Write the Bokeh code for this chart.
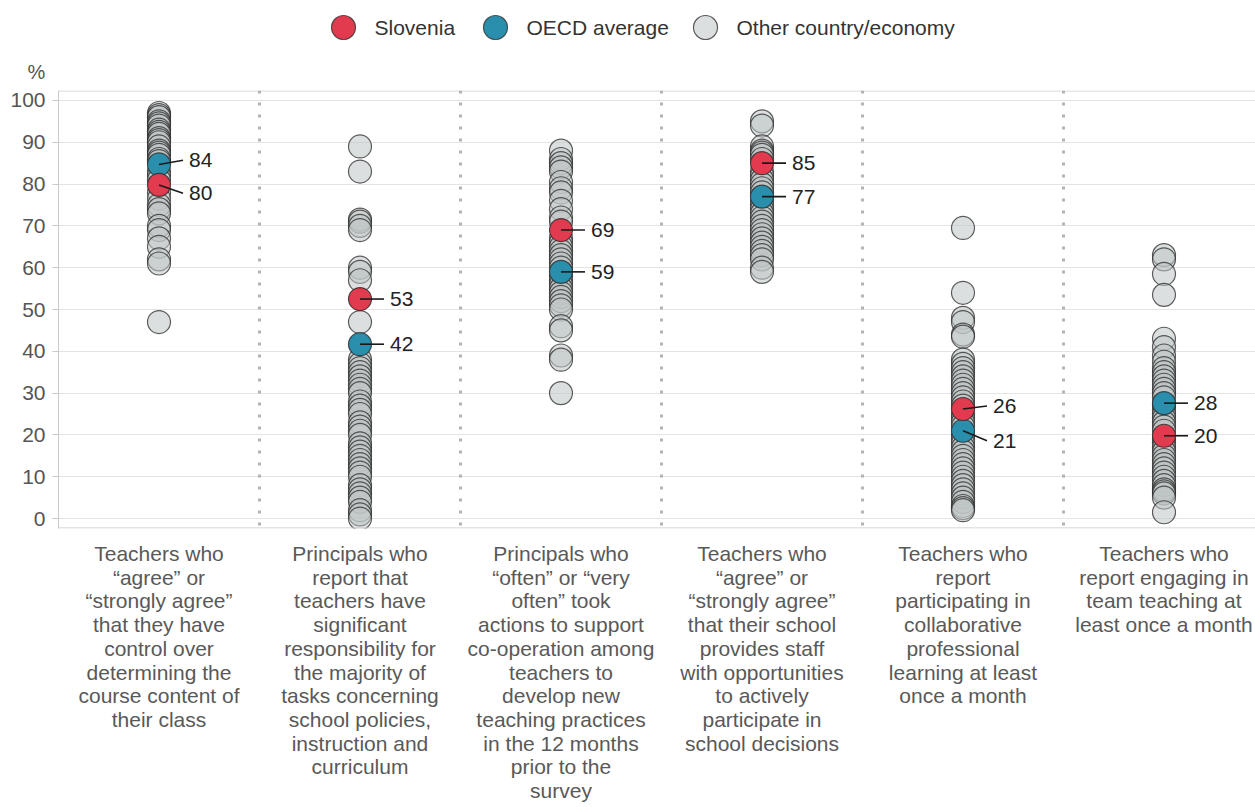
from bokeh.plotting import figure
from bokeh.models import Range1d, FixedTicker, Span, Title
from bokeh.layouts import column
from bokeh.core.properties import value
from bokeh.embed import file_html
from bokeh.resources import INLINE

# ---------------- data ----------------
categories = [
    "Teachers who\n“agree” or\n“strongly agree”\nthat they have\ncontrol over\ndetermining the\ncourse content of\ntheir class",
    "Principals who\nreport that\nteachers have\nsignificant\nresponsibility for\nthe majority of\ntasks concerning\nschool policies,\ninstruction and\ncurriculum",
    "Principals who\n“often” or “very\noften” took\nactions to support\nco-operation among\nteachers to\ndevelop new\nteaching practices\nin the 12 months\nprior to the\nsurvey",
    "Teachers who\n“agree” or\n“strongly agree”\nthat their school\nprovides staff\nwith opportunities\nto actively\nparticipate in\nschool decisions",
    "Teachers who\nreport\nparticipating in\ncollaborative\nprofessional\nlearning at least\nonce a month",
    "Teachers who\nreport engaging in\nteam teaching at\nleast once a month",
]

other_1 = [97, 96.5, 96, 95, 94.5, 94, 93, 92.5, 92, 91, 90.5, 90, 89, 88, 87.5, 87, 86, 85.5,
           83, 82, 81, 78, 76.5, 75, 74, 73, 70, 69, 67, 65, 62, 61, 47]
other_2 = [89, 83, 71.5, 71, 70, 69, 60, 59, 57, 47, 38, 37, 36, 35, 34, 33, 32, 31, 30, 28, 27,
           26, 25, 23, 22, 21, 20, 18, 17, 16, 15, 14, 13, 12, 11, 10, 8, 7, 6, 5, 4, 2, 1, 0]
other_3 = [88, 86, 85, 84, 83, 80.5, 79, 78, 76, 74, 72, 71, 67, 66, 65, 64, 63, 62, 61, 60, 58,
           57, 56, 55, 54, 53, 52, 51, 50, 46, 45, 39, 38, 30]
other_4 = [95, 94, 89, 88, 87.5, 87, 86, 83, 82, 81, 80, 79, 78, 76, 75, 74, 73, 72, 71, 70, 69,
           68, 67, 66, 65, 64, 63, 62, 60, 59]
other_5 = [69.5, 54, 48, 47, 44, 43.5, 38, 37, 36, 35, 34, 33, 32, 31, 30, 29, 28, 27, 25, 24, 23,
           22, 20, 19, 18, 17, 16, 15, 14, 13, 12, 11, 10, 9, 8, 7, 6, 5, 4, 3, 2.5, 2]
other_6 = [63, 62, 58.5, 53.5, 43, 41, 39, 37.5, 36, 35, 34, 33, 32, 31, 30, 29, 27, 26, 25, 24,
           23, 22, 21, 19, 18, 17, 16, 15, 14, 13, 12, 11, 10, 9, 8, 7, 6.5, 6, 5, 1.5]
others = [other_1, other_2, other_3, other_4, other_5, other_6]

slovenia = [79.8, 52.5, 69, 85, 26.2, 19.8]
oecd = [84.7, 41.7, 59, 77, 21, 27.6]
slovenia_labels = ["80", "53", "69", "85", "26", "20"]
oecd_labels = ["84", "42", "59", "77", "21", "28"]
# small vertical nudges so that overlapping labels separate
slovenia_nudge = [-2.0, 0, 0, 0, 0.7, 0]
oecd_nudge = [1.0, 0, 0, 0, -2.4, 0]

legend_names = ["Slovenia", "OECD average", "Other country/economy"]
y_ticks = list(range(0, 101, 10))

# ---------------- styles / layout ----------------
FONT = "Liberation Sans"
RED = "#e23a4e"
BLUE = "#2a8fad"
GRAY_FILL = "#bfc5c5"
TXT = "#333333"
AX = "#555555"

W = 1255
LEFT = 58
PXX = 201.0                      # px per category
PXY = 4.2                        # px per percentage point
y0 = -10 / PXY
y1 = 100 + 10 / PXY
xr = Range1d(0, (W - LEFT) / PXX)


def bare(fig):
    fig.axis.visible = False
    fig.grid.visible = False
    fig.outline_line_color = None
    return fig


def px2x(px):
    return (px - LEFT) / PXX


# ---------------- legend strip ----------------
LG_H = 50
lg = bare(figure(width=W, height=LG_H, x_range=xr, y_range=Range1d(0, LG_H),
                 output_backend="svg", toolbar_location=None,
                 min_border_left=LEFT, min_border_right=0, min_border_top=0, min_border_bottom=0))
leg_circle_px = [343, 495, 705]
leg_fill = [RED, BLUE, GRAY_FILL]
leg_alpha = [1.0, 1.0, 0.55]
for cx, fc, fa, name in zip(leg_circle_px, leg_fill, leg_alpha, legend_names):
    lg.scatter(x=[px2x(cx)], y=[LG_H - 27], size=24, fill_color=fc, fill_alpha=fa,
               line_color="#333333", line_alpha=0.8, line_width=1.2)
    lg.text(x=[px2x(cx + 31)], y=[LG_H - 27], text=[name], text_baseline="middle",
            text_align="left", text_font=value(FONT), text_font_size="21px", text_color=TXT)

# ---------------- main chart ----------------
TOP = 38
FRAME_H = 440
BOTTOM = 8
p = figure(width=W, height=TOP + FRAME_H + BOTTOM, x_range=xr, y_range=Range1d(y0, y1),
           output_backend="svg", toolbar_location=None,
           min_border_left=LEFT, min_border_right=0, min_border_top=TOP, min_border_bottom=BOTTOM)
p.title = Title(text="%", align="left", offset=-31, text_font=FONT, text_font_size="20px",
                text_font_style="normal", text_color=AX, standoff=16)
p.outline_line_color = None
p.xaxis.visible = False
p.xgrid.visible = False
p.ygrid.ticker = FixedTicker(ticks=y_ticks)
p.ygrid.grid_line_color = "#e4e4e4"
p.ygrid.grid_line_width = 1

p.yaxis.ticker = FixedTicker(ticks=y_ticks)
p.yaxis.major_label_text_font = FONT
p.yaxis.major_label_text_font_size = "21px"
p.yaxis.major_label_text_color = AX
p.yaxis.axis_line_color = "#c9c9c9"
p.yaxis.major_tick_line_color = "#c9c9c9"
p.yaxis.major_tick_out = 6
p.yaxis.major_tick_in = 0
p.yaxis.minor_tick_line_color = None
p.yaxis.major_label_standoff = 7

# frame top and bottom borders
p.add_layout(Span(location=y1 - 0.12, dimension="width", line_color="#d0d0d0", line_width=1))
p.add_layout(Span(location=y0 + 0.12, dimension="width", line_color="#c9c9c9", line_width=1))

# dotted separators
for i in range(1, len(categories)):
    p.add_layout(Span(location=i, dimension="height", line_color="#b3b3b3",
                      line_width=3, line_dash="3 9"))

xs_center = [i + 0.5 for i in range(len(categories))]

# other countries
for xc, vals in zip(xs_center, others):
    p.scatter(x=[xc] * len(vals), y=vals, size=23, fill_color=GRAY_FILL, fill_alpha=0.55,
              line_color="#2a2a2a", line_alpha=0.75, line_width=1.2)

# OECD and Slovenia
p.scatter(x=xs_center, y=oecd, size=23, fill_color=BLUE, line_color="#2a2a2a",
          line_alpha=0.8, line_width=1.2)
p.scatter(x=xs_center, y=slovenia, size=23, fill_color=RED, line_color="#2a2a2a",
          line_alpha=0.8, line_width=1.2)

# leader lines and value labels
line_dx = 24 / PXX
text_dx = 30 / PXX
for vals, labs, nud in ((oecd, oecd_labels, oecd_nudge), (slovenia, slovenia_labels, slovenia_nudge)):
    ly = [v + n for v, n in zip(vals, nud)]
    p.segment(x0=xs_center, y0=vals, x1=[x + line_dx for x in xs_center], y1=ly,
              line_color="#1a1a1a", line_width=1.6)
    p.text(x=[x + text_dx for x in xs_center], y=ly, text=labs, text_baseline="middle",
           text_align="left", text_font=value(FONT), text_font_size="21px", text_color="#222222")

# ---------------- category labels strip ----------------
LB_H = 807 - LG_H - TOP - FRAME_H - BOTTOM - 2
lb = bare(figure(width=W, height=LB_H, x_range=xr, y_range=Range1d(0, LB_H),
                 output_backend="svg", toolbar_location=None,
                 min_border_left=LEFT, min_border_right=0, min_border_top=0, min_border_bottom=0))
tx, ty, tt = [], [], []
for xc, cat in zip(xs_center, categories):
    for k, ln in enumerate(cat.split("\n")):
        tx.append(xc)
        ty.append(LB_H - (25 - BOTTOM) - k * 23.7)
        tt.append(ln)
lb.text(x=tx, y=ty, text=tt, text_align="center", text_baseline="middle",
        text_font=value(FONT), text_font_size="21px", text_color="#595959")

layout = column(lg, p, lb, spacing=0)
open("out.html", "w").write(file_html(layout, INLINE))
